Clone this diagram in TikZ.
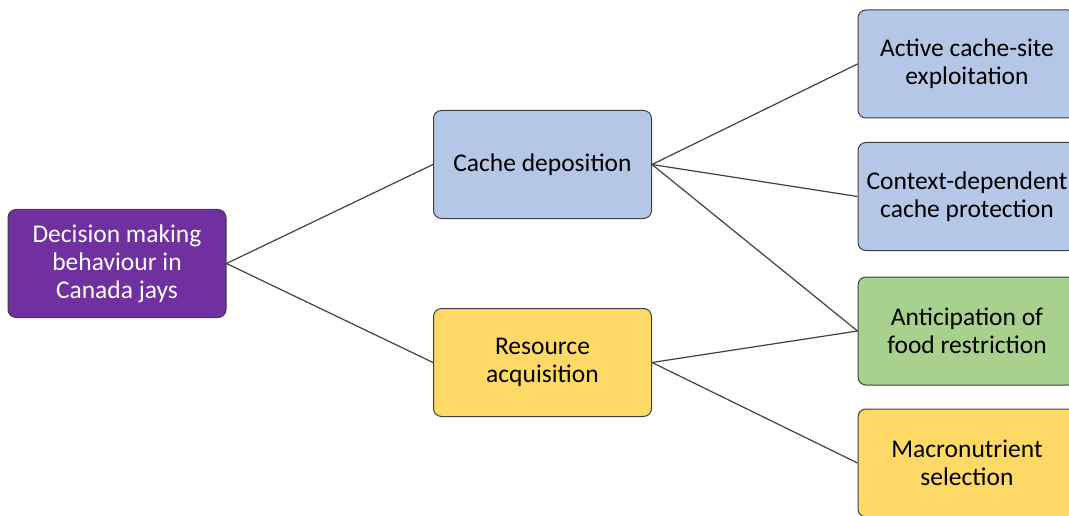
\documentclass[tikz,border=0pt]{standalone}
\usepackage{fontspec}
\setmainfont{Carlito}
\usepackage{xcolor}
\usetikzlibrary{positioning}

\definecolor{jaypurple}{HTML}{7030A0}
\definecolor{jayblue}{HTML}{B4C7E7}
\definecolor{jaygreen}{HTML}{A9D18E}
\definecolor{jayyellow}{HTML}{FFD966}
\definecolor{jayline}{HTML}{404040}

\tikzset{
    box/.style={draw=jayline, line width=1pt, rounded corners=8pt,
        minimum width=218pt, minimum height=108pt, align=center, inner sep=1pt,
        font=\fontsize{25.5}{28}\selectfont},
    link/.style={draw=jayline, line width=1.2pt}
}

\begin{document}
\begin{tikzpicture}[x=1pt, y=-1pt]
                \useasboundingbox (0,0) rectangle (1069,516);
                \clip (0,0) rectangle (1069,516);
                \node[box, fill=jaypurple, text=white] (root) at (117,263.5) {Decision making\\behaviour in\\Canada jays};
                \node[box, fill=jayblue] (cache) at (542.5,164.5) {Cache deposition};
                \node[box, fill=jayyellow] (resource) at (542.5,362.5) {Resource\\acquisition};
                \node[box, fill=jayblue] (active) at (967,64) {Active cache-site\\exploitation};
                \node[box, fill=jayblue] (context) at (967,196.5) {Context-dependent\\cache protection};
                \node[box, fill=jaygreen] (anticip) at (967,331) {Anticipation of\\food restriction};
                \node[box, fill=jayyellow] (macro) at (967,463) {Macronutrient\\selection};
                % connectors
                \draw[link] (root.east) -- (cache.west);
                \draw[link] (root.east) -- (resource.west);
                \foreach \t in {active,context,anticip}{
                    \draw[link] (cache.east) -- (\t.west);
                }
                \foreach \t in {anticip,macro}{
                    \draw[link] (resource.east) -- (\t.west);
                }
            \end{tikzpicture}
\end{document}
